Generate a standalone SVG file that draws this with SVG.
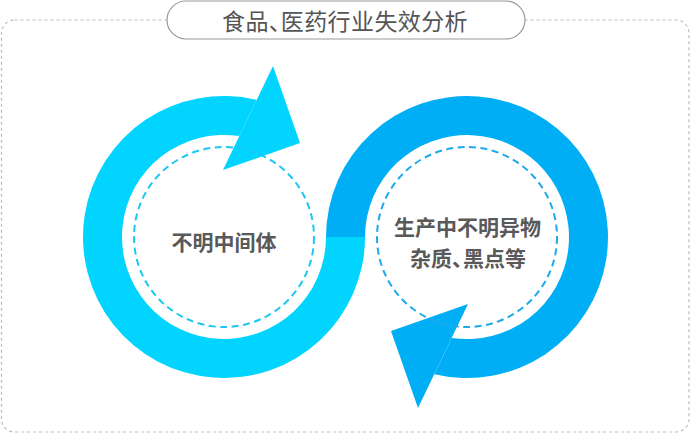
<svg xmlns="http://www.w3.org/2000/svg" width="691" height="434" viewBox="0 0 691 434">
  <style>
    .frame { fill: none; stroke: #bdbdbd; stroke-width: 1.2; stroke-dasharray: 3 3; }
    .pill { fill: #ffffff; stroke: #9a9a9a; stroke-width: 1.2; }
    .title { font-family: "Noto Sans CJK SC", "Noto Sans", sans-serif; font-size: 23px; fill: #555555; text-anchor: middle; letter-spacing: 0.4px; }
    .label { font-family: "Noto Sans CJK SC", "Noto Sans", sans-serif; font-size: 21px; font-weight: bold; fill: #595959; text-anchor: middle; }
    .ringL { fill: #00d4ff; }
    .ringR { fill: #00aef6; }
    .dashL { fill: none; stroke: #1cc8f2; stroke-width: 2; stroke-dasharray: 7 4.5; }
    .dashR { fill: none; stroke: #1ea9ec; stroke-width: 2; stroke-dasharray: 7 4.5; }
    .tight { letter-spacing: -11px; }
  </style>

  <g id="frame">
    <rect class="frame" x="1.5" y="20" width="687.5" height="412" rx="13" ry="13"/>
  </g>

  <g id="title">
    <rect class="pill" x="167" y="1" width="358" height="38" rx="19" ry="19"/>
    <text class="title" x="345" y="29.5">食品<tspan class="tight">、</tspan>医药行业失效分析</text>
  </g>

  <g id="connectors">
    <!-- right loop (dark blue), drawn first with a small extension under the junction -->
    <path class="ringR" d="M 326 240 L 326 237 A 141 141 0 1 1 434.3 374.15 L 451.7 337.9 A 102 102 0 1 0 365 237 L 365 240 Z"/>
    <polygon class="ringR" points="418,408 391,331 468,304"/>
    <!-- left loop (cyan) -->
    <path class="ringL" d="M 365 237 A 141 141 0 1 1 256.7 99.85 L 239.3 136.1 A 102 102 0 1 0 326 237 Z"/>
    <polygon class="ringL" points="273,66 300,143 223,170"/>
  </g>

  <g id="node-left">
    <circle class="dashL" cx="224" cy="237" r="90"/>
    <text class="label" x="224" y="250">不明中间体</text>
  </g>

  <g id="node-right">
    <circle class="dashR" cx="467" cy="237" r="90"/>
    <text class="label" x="467.5" y="235">生产中不明异物</text>
    <text class="label" x="468" y="266">杂质<tspan style="letter-spacing:-10px">、</tspan>黑点等</text>
  </g>
</svg>
